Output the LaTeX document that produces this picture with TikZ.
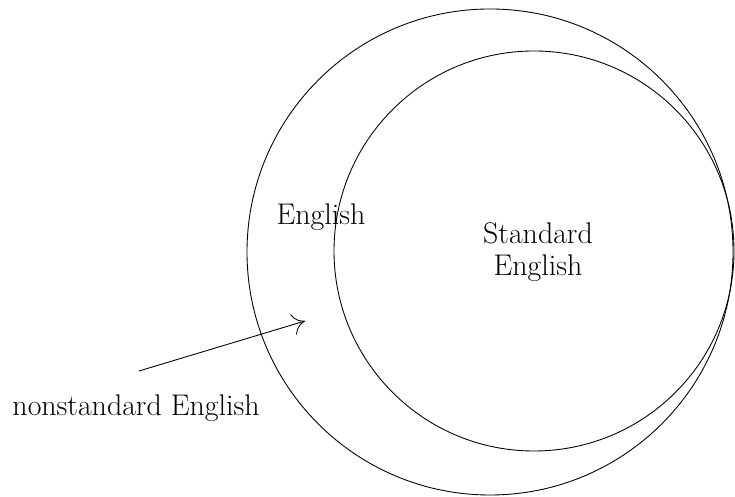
\documentclass[tikz,border=0pt]{standalone}
\usepackage{amsmath,amssymb}
\usepackage{tikz}
\usetikzlibrary{arrows.meta}
\tikzstyle{set} = [circle, draw, inner sep=0pt, line width=0.5pt]
\tikzstyle{lbl} = [font=\fontsize{17}{18.5}\selectfont, align=center]

\begin{document}
\begin{tikzpicture}[>={To[length=7pt,width=12pt]}]
  \useasboundingbox (0,0) rectangle (14.7,9.94);
  \node (all) at (9.8,4.9) [set, minimum size=9.72cm] {};
  \node (std) at (10.68,4.92) [set, minimum size=8cm] {};

  \node (a) at (6.42,5.6) [lbl] {English};
  \node (b) at (10.76,4.9) [lbl] {Standard\\English};
  \node (c) at (2.72,1.78) [lbl] {nonstandard English};

  \coordinate (t) at (2.78,2.52);
  \coordinate (h) at (6.1,3.52);
  \draw [->, line width=0.5pt] (t) to (h);
\end{tikzpicture}
\end{document}
